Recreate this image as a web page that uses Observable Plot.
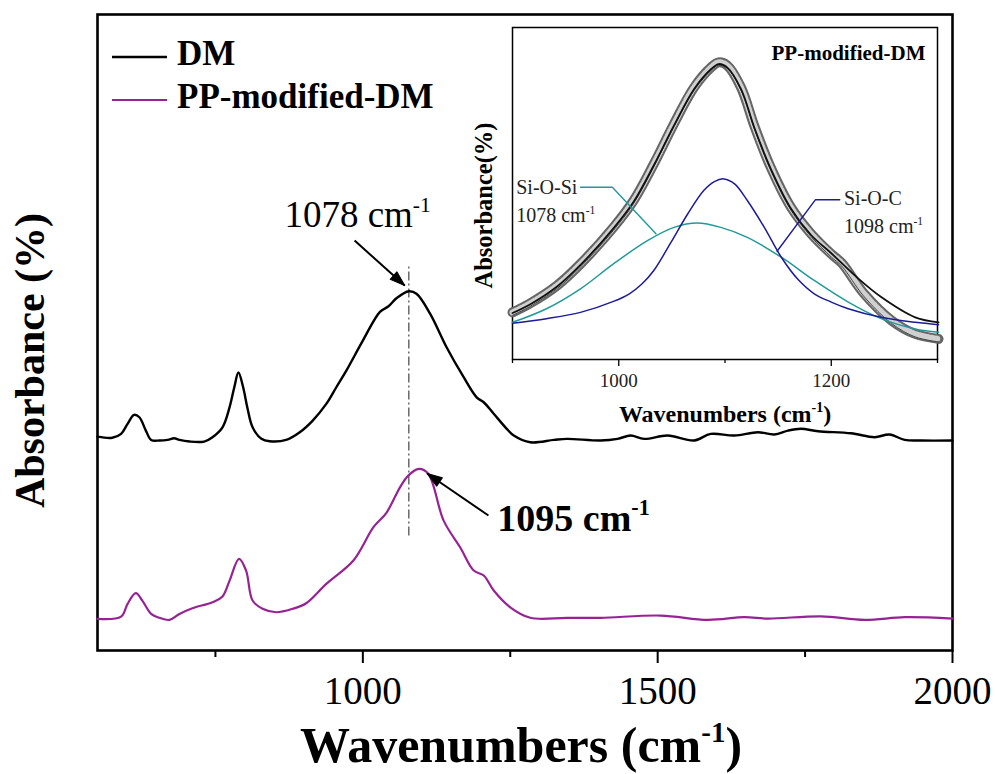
<!DOCTYPE html>
<html><head><meta charset="utf-8">
<script src="https://cdn.jsdelivr.net/npm/d3@7"></script>
<script src="https://cdn.jsdelivr.net/npm/@observablehq/plot@0.6"></script>
<style>
body{margin:0;background:#fff;}
#wrap{position:relative;width:995px;height:774px;overflow:hidden;background:#fff;}
</style></head><body><div id="wrap"></div>
<script>
const SERIF = '"Times New Roman", "Liberation Serif", "DejaVu Serif", serif';

// ---------- main chart data (wavenumber cm-1, absorbance a.u.) ----------
const dmWavenumber = [550,575,590,601,612,621,632,641,655,669,680,689,706,731,745,762,774,782,789,797,804,813,828,842,870,893,915,938,955,972,1000,1029,1043,1057,1078,1091,1114,1142,1171,1193,1205,1222,1244,1256,1284,1324,1346,1403,1432,1454,1477,1517,1562,1590,1630,1670,1698,1721,1743,1772,1828,1868,1893,1919,1947,2000];
const dmAbsorbance = [0.013,0.005,0.031,0.098,0.158,0.142,0.053,-0.009,-0.013,-0.009,0.002,-0.009,-0.02,-0.02,0.009,0.075,0.209,0.342,0.44,0.342,0.209,0.075,-0.002,-0.018,-0.009,0.042,0.12,0.231,0.342,0.453,0.653,0.845,0.88,0.935,0.982,0.965,0.833,0.609,0.409,0.275,0.242,0.165,0.065,0.02,-0.025,-0.009,-0.002,-0.013,-0.002,0.02,-0.002,0.02,-0.013,0.031,0.02,0.042,0.027,0.053,0.065,0.049,0.035,0.009,0.027,-0.009,-0.013,-0.013];
const dmOffset = 1.2;

const ppWavenumber = [550,590,601,615,626,641,655,672,689,711,745,762,774,790,802,813,830,853,881,904,938,984,1018,1040,1063,1077,1095,1111,1137,1165,1188,1205,1222,1250,1284,1346,1403,1505,1585,1647,1687,1777,1851,1919,2000];
const ppAbsorbance = [-0.002,0.013,0.098,0.169,0.12,0.031,0.005,-0.009,0.031,0.069,0.109,0.147,0.253,0.398,0.32,0.12,0.065,0.042,0.065,0.102,0.231,0.387,0.609,0.705,0.875,0.953,0.998,0.965,0.653,0.475,0.32,0.287,0.187,0.075,0.005,0.005,0.005,0.02,-0.009,0.009,0,0.015,-0.009,0.009,0];

const seriesNames = ["DM", "PP-modified-DM"];
const seriesColors = ["#000000", "#962394"];

const mainTicks = [1000, 1500, 2000];
const mainMinorTicks = [750, 1250, 1750];
const peakLine = 1078;

const mainLabels = [
  {text: "1078 cm⁻¹", x: 867, y: 2.613, weight: "normal"},
  {text: "1095 cm⁻¹", x: 1228, y: 0.587, weight: "bold"}
];
const mainArrows = [
  {x1: 986, y1: 2.52, x2: 1071, y2: 2.22},
  {x1: 1213, y1: 0.687, x2: 1109, y2: 0.967}
];

// ---------- inset data ----------
const insetWavenumber = [900,916,942,964,995,1014,1033,1052,1071,1087,1094,1102,1115,1128,1143,1162,1181,1200,1210,1231,1257,1279,1301];
const insetMeasured = [0.142,0.168,0.223,0.288,0.398,0.479,0.589,0.71,0.82,0.88,0.895,0.886,0.82,0.7,0.579,0.459,0.379,0.318,0.29,0.198,0.117,0.077,0.062];
const fitWavenumber = [900,916,942,964,995,1014,1033,1052,1071,1087,1094,1102,1115,1128,1143,1162,1181,1200,1225,1247,1279,1301];
const fitAbsorbance = [0.14,0.165,0.22,0.285,0.395,0.475,0.585,0.705,0.815,0.875,0.89,0.88,0.815,0.695,0.575,0.455,0.375,0.32,0.245,0.188,0.127,0.112];
const siOSiWavenumber = [900,932,964,995,1027,1052,1074,1096,1121,1153,1184,1216,1247,1279,1301];
const siOSiAbsorbance = [0.112,0.153,0.213,0.288,0.358,0.398,0.411,0.398,0.368,0.308,0.238,0.173,0.123,0.092,0.082];
const siOCWavenumber = [900,932,964,995,1010,1022,1033,1049,1065,1080,1090,1099,1109,1121,1137,1153,1169,1184,1200,1216,1247,1279,1301];
const siOCAbsorbance = [0.109,0.123,0.142,0.175,0.198,0.228,0.268,0.352,0.439,0.509,0.536,0.544,0.529,0.479,0.398,0.308,0.24,0.198,0.173,0.153,0.127,0.112,0.105];
const insetTicks = [1000, 1200];
const insetMinorTicks = [900, 1100, 1300];
const componentColors = {"Si-O-Si": "#1f9a9a", "Si-O-C": "#1c1c96"};
const insetLabels = [
  {text: "Si-O-Si", x: 903.5, y: 0.497},
  {text: "1078 cm⁻¹", x: 903.5, y: 0.413},
  {text: "Si-O-C", x: 1212, y: 0.464},
  {text: "1098 cm⁻¹", x: 1212, y: 0.380}
];
const leaders = [
  {g: "Si-O-Si", x: 964, y: 0.519}, {g: "Si-O-Si", x: 994, y: 0.519}, {g: "Si-O-Si", x: 1035, y: 0.379},
  {g: "Si-O-C", x: 1208, y: 0.481}, {g: "Si-O-C", x: 1185, y: 0.481}, {g: "Si-O-C", x: 1149, y: 0.326}
];

// ---------- tables ----------
const dm = dmWavenumber.map((w, i) => ({w, a: dmAbsorbance[i] + dmOffset}));
const pp = ppWavenumber.map((w, i) => ({w, a: ppAbsorbance[i]}));
const measured = insetWavenumber.map((w, i) => ({w, a: insetMeasured[i]}));
const fit = fitWavenumber.map((w, i) => ({w, a: fitAbsorbance[i]}));
const siOSi = siOSiWavenumber.map((w, i) => ({w, a: siOSiAbsorbance[i]}));
const siOC = siOCWavenumber.map((w, i) => ({w, a: siOCAbsorbance[i]}));

// layout
const W = 995, H = 774;
const M = {left: 97, right: 43, top: 14, bottom: 124};
const xDom = [550, 2000], yDom = [-0.213, 4.027];
const kx = (W - M.left - M.right) / (xDom[1] - xDom[0]);
const ky = (H - M.top - M.bottom) / (yDom[1] - yDom[0]);
const arrows = mainArrows.map(d => ({...d, rot: Math.atan2((d.x2 - d.x1) * kx, (d.y2 - d.y1) * ky) * 180 / Math.PI}));
const head = {draw(c, l, r) { c.moveTo(-r, 0); c.lineTo(0, -l); c.lineTo(r, 0); c.closePath(); }};

const wrap = document.getElementById("wrap");

const main = Plot.plot({
  width: W, height: H,
  marginLeft: M.left, marginRight: M.right, marginTop: M.top, marginBottom: M.bottom,
  style: {fontFamily: SERIF, background: "white", color: "black", overflow: "visible"},
  x: {domain: xDom, label: null},
  y: {domain: yDom, axis: null, label: null},
  marks: [
    Plot.frame({stroke: "black", strokeWidth: 2.6}),
    Plot.axisX({ticks: mainTicks, tickSize: 13, tickPadding: 13, fontSize: 39, tickFormat: d => String(d), strokeWidth: 2, label: null}),
    Plot.axisX({ticks: mainMinorTicks, tickSize: 7, tickFormat: () => "", strokeWidth: 2, label: null}),
    Plot.ruleX([peakLine], {y1: 0.55, y2: 2.36, stroke: "#444", strokeWidth: 1.2, strokeDasharray: "9,3,2,3"}),
    Plot.line(dm, {x: "w", y: "a", stroke: seriesColors[0], strokeWidth: 2.4, curve: "catmull-rom", strokeLinejoin: "round"}),
    Plot.line(pp, {x: "w", y: "a", stroke: seriesColors[1], strokeWidth: 2.2, curve: "catmull-rom", strokeLinejoin: "round"}),
    Plot.link(arrows, {x1: "x1", y1: "y1", x2: "x2", y2: "y2", stroke: "black", strokeWidth: 2}),
    Plot.vector(arrows, {x: "x2", y: "y2", rotate: "rot", length: 15, r: 5, shape: head, anchor: "end", fill: "black", stroke: "black", strokeWidth: 1}),
    Plot.text(mainLabels.filter(d => d.weight === "normal"), {x: "x", y: "y", text: "text", textAnchor: "start", lineAnchor: "bottom", fontSize: 37, fill: "black"}),
    Plot.text(mainLabels.filter(d => d.weight === "bold"), {x: "x", y: "y", text: "text", textAnchor: "start", lineAnchor: "bottom", fontSize: 38, fontWeight: "bold", fill: "black"}),
    Plot.text(["Wavenumbers (cm⁻¹)"], {frameAnchor: "bottom", dy: 111, dx: -4, lineAnchor: "bottom", fontSize: 50, fontWeight: "bold", fill: "black"}),
    Plot.text(["Absorbance (%)"], {frameAnchor: "left", rotate: -90, dx: -54, dy: 28, lineAnchor: "bottom", textAnchor: "middle", fontSize: 42, fontWeight: "bold", fill: "black"})
  ]
});
main.style.position = "absolute"; main.style.left = "0px"; main.style.top = "0px";
wrap.appendChild(main);

// ---------- inset ----------
const IL = 440, IT = 0, IW = 530, IH = 450;
const inset = Plot.plot({
  width: IW, height: IH,
  marginLeft: 512 - IL, marginRight: IL + IW - 937, marginTop: 27 - IT, marginBottom: IT + IH - 359,
  style: {fontFamily: SERIF, background: "transparent", color: "black", overflow: "visible"},
  x: {domain: [900, 1300], label: null},
  y: {domain: [0, 1], axis: null, label: null},
  marks: [
    Plot.frame({fill: "white", stroke: "black", strokeWidth: 1.5}),
    Plot.axisX({ticks: insetTicks, tickSize: 7, tickPadding: 7, fontSize: 19, tickFormat: d => String(d), strokeWidth: 1.3, label: null, fill: "#222"}),
    Plot.axisX({ticks: insetMinorTicks, tickSize: 4, tickFormat: () => "", strokeWidth: 1.3, label: null}),
    Plot.line(measured, {x: "w", y: "a", stroke: "#666", strokeWidth: 10, curve: "catmull-rom"}),
    Plot.line(measured, {x: "w", y: "a", stroke: "#d0d0d0", strokeWidth: 6, strokeDasharray: "2,2", curve: "catmull-rom"}),
    Plot.line(measured, {x: "w", y: "a", stroke: "#444", strokeWidth: 1, dy: 3, curve: "catmull-rom"}),
    Plot.line(fit, {x: "w", y: "a", stroke: "#111", strokeWidth: 1.8, curve: "catmull-rom"}),
    Plot.line(siOSi, {x: "w", y: "a", stroke: componentColors["Si-O-Si"], strokeWidth: 1.5, curve: "catmull-rom"}),
    Plot.line(siOC, {x: "w", y: "a", stroke: componentColors["Si-O-C"], strokeWidth: 1.5, curve: "catmull-rom"}),
    Plot.line(leaders, {x: "x", y: "y", z: "g", stroke: d => componentColors[d.g], strokeWidth: 1.4}),
    Plot.text(insetLabels, {x: "x", y: "y", text: "text", textAnchor: "start", lineAnchor: "bottom", fontSize: 20, fill: "#222"}),
    Plot.text(["PP-modified-DM"], {frameAnchor: "top-right", dx: -12, dy: 32, textAnchor: "end", lineAnchor: "bottom", fontSize: 21, fontWeight: "bold", fill: "black"}),
    Plot.text(["Wavenumbers (cm⁻¹)"], {frameAnchor: "bottom", dy: 62, lineAnchor: "bottom", fontSize: 24, fontWeight: "bold", fill: "black"}),
    Plot.text(["Absorbance(%)"], {frameAnchor: "left", rotate: -90, dx: -21, dy: 12, lineAnchor: "bottom", textAnchor: "middle", fontSize: 24.5, fontWeight: "bold", fill: "black"})
  ]
});
inset.style.position = "absolute"; inset.style.left = IL + "px"; inset.style.top = IT + "px";
wrap.appendChild(inset);

// ---------- legend (inside the frame, top-left) ----------
const leg = d3.create("svg").attr("width", 380).attr("height", 95)
  .style("position", "absolute").style("left", "100px").style("top", "30px")
  .style("font-family", SERIF);
seriesNames.forEach((name, i) => {
  const cy = i === 0 ? 27 : 70;
  leg.append("line").attr("x1", 12).attr("x2", 67).attr("y1", cy).attr("y2", cy)
    .attr("stroke", seriesColors[i]).attr("stroke-width", i === 0 ? 2.6 : 2.2);
  leg.append("text").attr("x", 77).attr("y", cy + 8).attr("font-size", 35)
    .attr("font-weight", "bold").attr("fill", "black").text(name);
});
wrap.appendChild(leg.node());

// ---------- superscripts ----------
function sup(svg) {
  const ns = "http://www.w3.org/2000/svg";
  svg.querySelectorAll("text").forEach(t => {
    if (t.children.length || !t.textContent.includes("⁻¹")) return;
    const fs = parseFloat(getComputedStyle(t).fontSize);
    const [a, b] = t.textContent.split("⁻¹");
    t.textContent = "";
    const s0 = document.createElementNS(ns, "tspan"); s0.textContent = a; t.appendChild(s0);
    const s1 = document.createElementNS(ns, "tspan"); s1.textContent = "-1";
    s1.setAttribute("font-size", (fs * 0.58) + "px"); s1.setAttribute("dy", (-fs * 0.4) + "px"); t.appendChild(s1);
    if (b) {
      const s2 = document.createElementNS(ns, "tspan"); s2.textContent = b;
      s2.setAttribute("dy", (fs * 0.4) + "px"); t.appendChild(s2);
    }
  });
}
sup(main); sup(inset);
</script></body></html>
